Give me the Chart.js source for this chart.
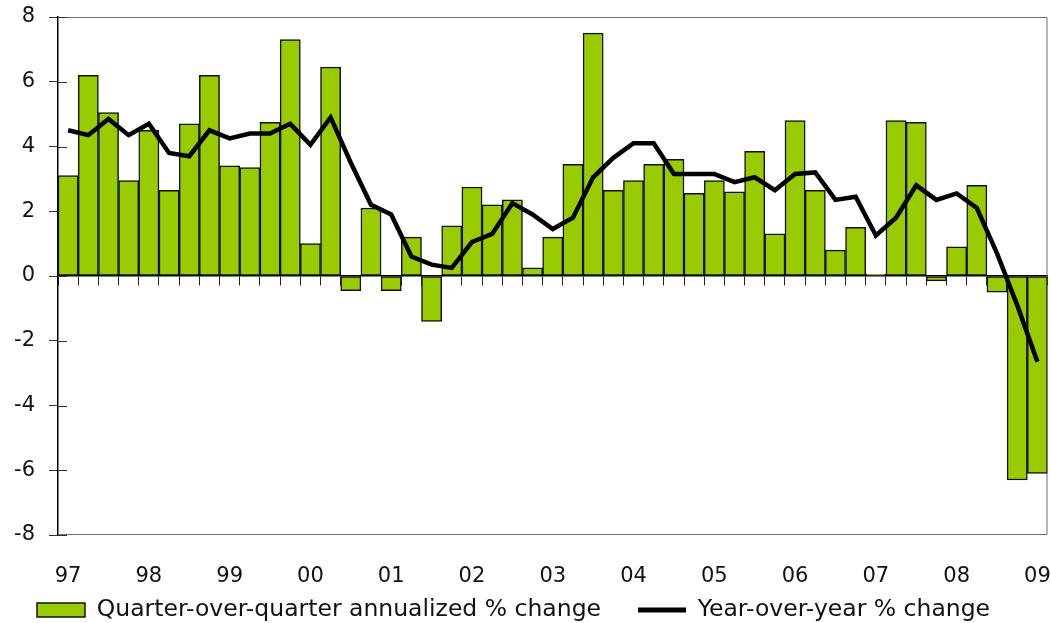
<!DOCTYPE html>
<html>
<head>
<meta charset="utf-8">
<script src="https://cdn.jsdelivr.net/npm/chart.js@4"></script>
<style>
  html, body { margin: 0; padding: 0; background: #fff; }
  #wrap { width: 1051px; height: 623px; }
</style>
</head>
<body>
<div id="wrap"><canvas id="gdp"></canvas></div>
<script>
// quarters 1997Q1 .. 2009Q1
var quarters = [
  '97Q1', '97Q2', '97Q3', '97Q4', '98Q1', '98Q2', '98Q3', '98Q4',
  '99Q1', '99Q2', '99Q3', '99Q4', '00Q1', '00Q2', '00Q3', '00Q4',
  '01Q1', '01Q2', '01Q3', '01Q4', '02Q1', '02Q2', '02Q3', '02Q4',
  '03Q1', '03Q2', '03Q3', '03Q4', '04Q1', '04Q2', '04Q3', '04Q4',
  '05Q1', '05Q2', '05Q3', '05Q4', '06Q1', '06Q2', '06Q3', '06Q4',
  '07Q1', '07Q2', '07Q3', '07Q4', '08Q1', '08Q2', '08Q3', '08Q4',
  '09Q1'
];

var yearLabels = ['97', '98', '99', '00', '01', '02', '03', '04', '05', '06', '07', '08', '09'];

var qoqAnnualized = [
  3.1, 6.2, 5.05, 2.95, 4.5, 2.65, 4.7, 6.2,
  3.4, 3.35, 4.75, 7.3, 1.0, 6.45, -0.45, 2.1,
  -0.45, 1.2, -1.4, 1.55, 2.75, 2.2, 2.35, 0.25,
  1.2, 3.45, 7.5, 2.65, 2.95, 3.45, 3.6, 2.55,
  2.95, 2.6, 3.85, 1.3, 4.8, 2.65, 0.8, 1.5,
  0.05, 4.8, 4.75, -0.15, 0.9, 2.8, -0.5, -6.3,
  -6.1
];

var yoyChange = [
  4.5, 4.35, 4.85, 4.35, 4.7, 3.8, 3.7, 4.5,
  4.25, 4.4, 4.4, 4.7, 4.05, 4.9, 3.5, 2.2,
  1.9, 0.6, 0.35, 0.25, 1.05, 1.3, 2.25, 1.9,
  1.45, 1.8, 3.05, 3.65, 4.1, 4.1, 3.15, 3.15,
  3.15, 2.9, 3.05, 2.65, 3.15, 3.2, 2.35, 2.45,
  1.25, 1.8, 2.8, 2.35, 2.55, 2.1, 0.7, -0.9,
  -2.65
];

var seriesNames = ['Quarter-over-quarter annualized % change', 'Year-over-year % change'];

var GREEN = '#99cc00';
var INK = '#111';

var framePlugin = {
  id: 'frame',
  beforeDatasetsDraw: function(chart) {
    var a = chart.chartArea;
    var ctx = chart.ctx;
    var y = chart.scales.y;
    ctx.save();
    ctx.strokeStyle = '#6f6f6f';
    ctx.lineWidth = 1;
    ctx.beginPath();
    ctx.moveTo(a.left, a.top + 0.5);
    ctx.lineTo(a.right - 0.5, a.top + 0.5);
    ctx.lineTo(a.right - 0.5, a.bottom - 0.5);
    ctx.lineTo(a.left, a.bottom - 0.5);
    ctx.stroke();
    // inner half of the y tick marks
    ctx.strokeStyle = '#333';
    y.ticks.forEach(function(t) {
      var py = Math.round(y.getPixelForValue(t.value)) + 0.5;
      ctx.beginPath();
      ctx.moveTo(a.left, py);
      ctx.lineTo(a.left + 9, py);
      ctx.stroke();
    });
    ctx.restore();
  }
};

new Chart(document.getElementById('gdp'), {
  type: 'bar',
  data: {
    labels: quarters,
    datasets: [
      {
        type: 'bar',
        label: seriesNames[0],
        data: qoqAnnualized,
        xAxisID: 'x',
        backgroundColor: GREEN,
        borderColor: INK,
        borderWidth: 1.5,
        borderSkipped: false,
        categoryPercentage: 1,
        barPercentage: 1,
        order: 2
      },
      {
        type: 'line',
        label: seriesNames[1],
        data: yoyChange,
        xAxisID: 'x',
        borderColor: '#000',
        borderWidth: 4.5,
        pointRadius: 0,
        tension: 0,
        fill: false,
        order: 1
      }
    ]
  },
  options: {
    responsive: true,
    maintainAspectRatio: false,
    animation: false,
    layout: { padding: { left: 0, right: 3.5, top: 17, bottom: 0 } },
    plugins: {
      tooltip: { enabled: false },
      legend: {
        position: 'bottom',
        align: 'start',
        maxHeight: 61.75,
        labels: {
          usePointStyle: true,
          pointStyleWidth: 48,
          boxWidth: 48,
          boxHeight: 14,
          padding: 37,
          color: INK,
          font: { family: 'DejaVu Sans', size: 23.5 },
          generateLabels: function() {
            return [
              { text: seriesNames[0], fillStyle: GREEN, strokeStyle: INK, lineWidth: 1.5, pointStyle: 'rect', datasetIndex: 0, hidden: false, fontColor: INK },
              { text: seriesNames[1], fillStyle: '#000', strokeStyle: '#000', lineWidth: 5, pointStyle: 'line', datasetIndex: 1, hidden: false, fontColor: INK }
            ];
          }
        }
      }
    },
    scales: {
      x: {
        type: 'category',
        position: 'bottom',
        offset: true,
        grid: { display: false, drawTicks: false },
        border: { display: false },
        ticks: {
          autoSkip: false,
          maxRotation: 0,
          mirror: true,
          padding: -54.6,
          color: INK,
          font: { family: 'DejaVu Sans', size: 21 },
          callback: function(value, index) {
            return index % 4 === 0 ? yearLabels[index / 4] : '';
          }
        },
        afterFit: function(scale) {
          scale.height = 26.25;
          scale.paddingLeft = 0;
          scale.paddingRight = 0;
        }
      },
      x2: {
        type: 'category',
        position: { y: 0 },
        offset: true,
        grid: { offset: true, drawOnChartArea: false, drawTicks: true, tickLength: 9, color: '#222', lineWidth: 1 },
        border: { display: true, color: '#000', width: 1.5 },
        ticks: { display: false, autoSkip: false }
      },
      y: {
        min: -8,
        max: 8,
        ticks: {
          stepSize: 2,
          padding: 14,
          color: INK,
          font: { family: 'DejaVu Sans', size: 21 }
        },
        grid: { drawOnChartArea: false, drawTicks: true, tickLength: 9, color: '#333' },
        border: { display: true, color: '#000', width: 1.5 },
        afterFit: function(scale) {
          scale.width = 58;
          scale.paddingTop = 0;
          scale.paddingBottom = 0;
        }
      }
    }
  },
  plugins: [framePlugin]
});
</script>
</body>
</html>
